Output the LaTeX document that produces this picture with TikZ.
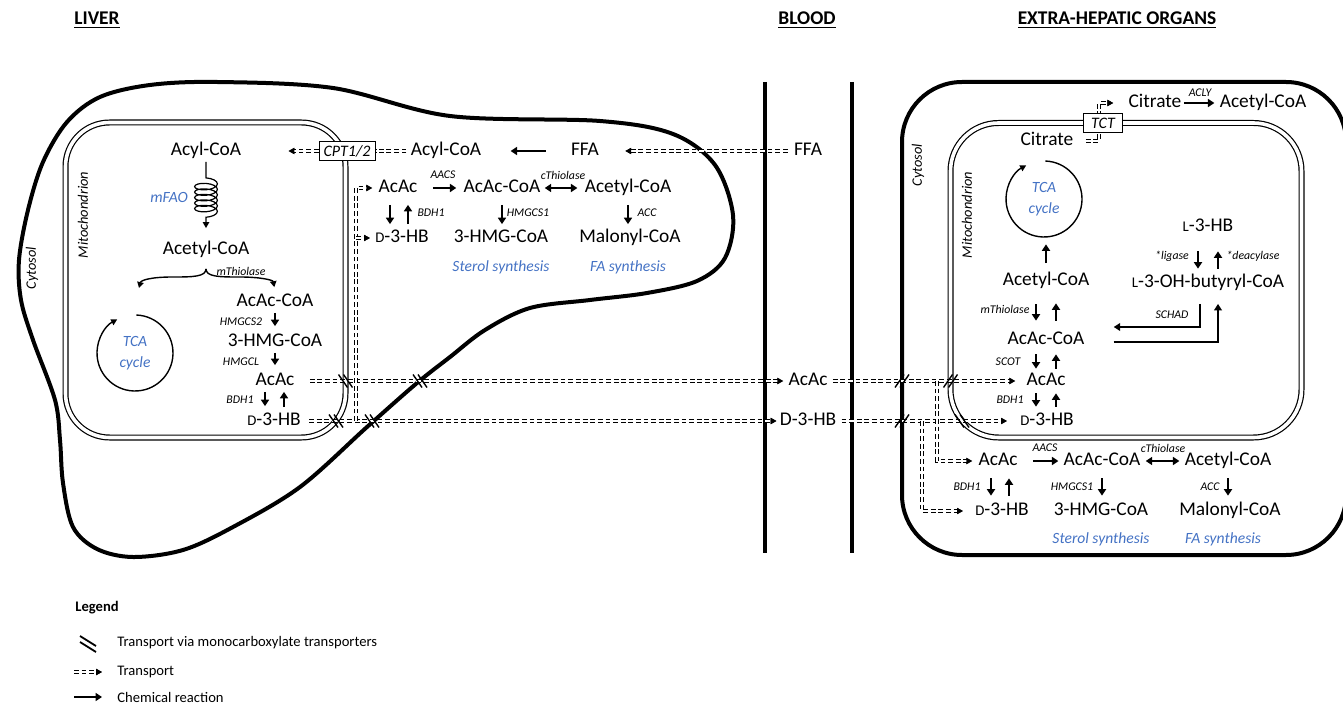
\documentclass[tikz,border=0pt]{standalone}
\usepackage{fontspec}
\setmainfont{Carlito}
\usetikzlibrary{arrows.meta,decorations.pathmorphing,backgrounds,calc}
\definecolor{pathBlue}{RGB}{68,114,196}
\newcommand{\smc}[1]{{\fontsize{7.4}{8}\selectfont #1}}
\tikzset{
  metab/.style={font=\fontsize{9.7}{11}\selectfont, inner sep=1pt, text height=6.5pt, text depth=2pt},
  enzyme/.style={font=\fontsize{5.9}{7}\selectfont\itshape, inner sep=0.5pt},
  bluenote/.style={font=\fontsize{7.8}{10.5}\selectfont\itshape, text=pathBlue, align=center, inner sep=0.5pt},
  compname/.style={font=\fontsize{7.2}{8}\selectfont\itshape, rotate=90, inner sep=0.5pt},
  header/.style={font=\fontsize{9.7}{11}\selectfont\bfseries},
  legendtxt/.style={font=\fontsize{7.3}{9}\selectfont, anchor=west, inner sep=0.5pt},
  carrier/.style={draw, fill=white, line width=0.5pt, font=\fontsize{8}{9}\selectfont\itshape,
    inner sep=1.5pt, minimum height=9.5pt},
  membrane/.style={line width=2pt},
  mitomem/.style={draw, double, line width=0.6pt, double distance=1.8pt},
  rxn/.style={line width=1.2pt, -{Triangle[length=3.2pt,width=4pt]}},
  rxnboth/.style={line width=1.2pt, {Triangle[length=3.2pt,width=4pt]}-{Triangle[length=3.2pt,width=4pt]}},
  rxnthin/.style={line width=0.85pt, -{Triangle[length=3.2pt,width=3.8pt]}},
  transportline/.style={line width=2pt, dash pattern=on 2.4pt off 1.4pt,
    postaction={draw=white, line width=0.8pt}},
  transport/.style={line width=2pt, dash pattern=on 2.4pt off 1.4pt,
    -{Triangle[length=2.9pt,width=3pt]},
    postaction={draw=white, line width=0.8pt, -{Triangle[length=2.9pt,width=3pt,color=black]}}},
  cycleline/.style={line width=0.7pt, -{Triangle[length=3pt,width=3.2pt]}},
  tcanode/.style={circle, minimum size=38pt, inner sep=0pt, font=\fontsize{7.8}{10.5}\selectfont\itshape,
    text=pathBlue, align=center},
  mct/.pic={\draw[line width=0.7pt] (-7,-6.5) -- (2,6.5) (-2,-6.5) -- (7,6.5);},
}

\begin{document}
\begin{tikzpicture}[x=0.5pt, y=-0.5pt]
  \useasboundingbox (0,0) rectangle (1343,705);

  % headers
  \node[header] (hliver) at (97,20) {\underline{LIVER}};
  \node[header] (hblood) at (807,20) {\underline{BLOOD}};
  \node[header] (hextra) at (1117,20) {\underline{EXTRA-HEPATIC ORGANS}};

  % membranes
  \draw[membrane] plot[smooth cycle, tension=0.55] coordinates {
    (217,82) (333,88) (450,116) (600,121) (673,134) (715,165) (733,215) (725,258)
    (697,281) (647,293) (590,300) (530,308) (485,330) (450,357) (417,383) (367,427)
    (300,487) (233,527) (183,550) (133,557) (97,549) (73,527) (63,483) (60,440)
    (55,400) (33,340) (21,300) (19,260) (28,210) (43,162) (67,122) (100,97) (150,85)};
  \draw[membrane] (765,82) -- (765,553);
  \draw[membrane] (852,82) -- (852,553);
  \draw[membrane, rounded corners=30pt] (902,82) rectangle (1346,555);
  \draw[mitomem, rounded corners=22pt] (65.5,122.5) rectangle (345.5,437.5);
  \draw[mitomem, rounded corners=24pt] (950.5,123) rectangle (1301.5,437.5);

  \node[compname] (lcyto) at (32,268) {Cytosol};
  \node[compname] (lmitolab) at (83,215) {Mitochondrion};
  \node[compname] (ecyto) at (918,165) {Cytosol};
  \node[compname] (emitolab) at (967,215) {Mitochondrion};

  % liver mitochondrion
  \node[metab] (lacylm) at (206,151) {Acyl-CoA};
  \node[bluenote] (mfao) at (169,197) {mFAO};
  \node[metab] (lacetylm) at (206,250) {Acetyl-CoA};
  \node[enzyme] (lmthiol) at (241,271) {mThiolase};
  \node[metab] (lacaccoam) at (275,302) {AcAc-CoA};
  \node[enzyme] (lhmgcs2) at (241,322) {HMGCS2};
  \node[metab] (lhmgm) at (275,342) {3-HMG-CoA};
  \node[enzyme] (lhmgcl) at (241,362) {HMGCL};
  \node[metab] (lacacm) at (275,381) {AcAc};
  \node[enzyme] (lbdh1m) at (240,400) {BDH1};
  \node[metab] (ld3hbm) at (274,421) {\smc{D}-3-HB};
  \node[tcanode] (ltca) at (135,353) {TCA\\cycle};

  % liver cytosol
  \node[metab] (lacyl) at (446,151) {Acyl-CoA};
  \node[metab] (lffa) at (585,151) {FFA};
  \node[metab] (lacacc) at (398,188) {AcAc};
  \node[enzyme] (laacs) at (443,175) {AACS};
  \node[metab] (lacaccoac) at (502,188) {AcAc-CoA};
  \node[enzyme] (lcthiol) at (563,175) {cThiolase};
  \node[metab] (lacetylc) at (628,188) {Acetyl-CoA};
  \node[enzyme] (lbdh1c) at (431,213) {BDH1};
  \node[metab] (ld3hbc) at (402,238) {\smc{D}-3-HB};
  \node[enzyme] (lhmgcs1) at (528,213) {HMGCS1};
  \node[metab] (lhmgc) at (501,238) {3-HMG-CoA};
  \node[enzyme] (lacc) at (647,213) {ACC};
  \node[metab] (lmalc) at (630,238) {Malonyl-CoA};
  \node[bluenote] (lsterol) at (501,267) {Sterol synthesis};
  \node[bluenote] (lfasyn) at (628,267) {FA synthesis};
  \node[carrier, minimum width=28pt] (cpt) at (347,151) {CPT1/2};

  % blood
  \node[metab] (bffa) at (808,151) {FFA};
  \node[metab] (bacac) at (808,381) {AcAc};
  \node[metab] (bd3hb) at (808,421) {D-3-HB};

  % extra-hepatic mitochondrion
  \node[metab] (ecitc) at (1155,103) {Citrate};
  \node[enzyme] (eacly) at (1200,93) {ACLY};
  \node[metab] (eacetyltop) at (1263,103) {Acetyl-CoA};
  \node[carrier, minimum width=19.5pt] (tct) at (1103,123) {TCT};
  \node[metab] (ecitm) at (1047,141) {Citrate};
  \node[tcanode] (etca) at (1044,199) {TCA\\cycle};
  \node[metab] (eacetylm) at (1046,281) {Acetyl-CoA};
  \node[metab] (el3hb) at (1208,227) {\smc{L}-3-HB};
  \node[enzyme] (eligase) at (1172,256) {*ligase};
  \node[enzyme] (edeacyl) at (1253,256) {*deacylase};
  \node[metab] (el3oh) at (1208,283) {\smc{L}-3-OH-butyryl-CoA};
  \node[enzyme] (emthiol) at (1005,309) {mThiolase};
  \node[enzyme] (eschad) at (1172,315) {SCHAD};
  \node[metab] (eacaccoam) at (1046,340) {AcAc-CoA};
  \node[enzyme] (escot) at (1008,362) {SCOT};
  \node[metab] (eacacm) at (1046,381) {AcAc};
  \node[enzyme] (ebdh1m) at (1010,400) {BDH1};
  \node[metab] (ed3hbm) at (1047,421) {\smc{D}-3-HB};

  % extra-hepatic cytosol
  \node[metab] (eacacc) at (998,461) {AcAc};
  \node[enzyme] (eaacs) at (1045,448) {AACS};
  \node[metab] (eacaccoac) at (1102,461) {AcAc-CoA};
  \node[enzyme] (ecthiol) at (1163,448) {cThiolase};
  \node[metab] (eacetylc) at (1228,461) {Acetyl-CoA};
  \node[enzyme] (ebdh1c) at (967,487) {BDH1};
  \node[enzyme] (ehmgcs1) at (1072,487) {HMGCS1};
  \node[enzyme] (eacc) at (1210,487) {ACC};
  \node[metab] (ed3hbc) at (1002,511) {\smc{D}-3-HB};
  \node[metab] (ehmgc) at (1101,511) {3-HMG-CoA};
  \node[metab] (emalc) at (1230,511) {Malonyl-CoA};
  \node[bluenote] (esterol) at (1101,539) {Sterol synthesis};
  \node[bluenote] (efasyn) at (1223,539) {FA synthesis};

  % reactions, liver
  \draw[line width=0.6pt, decorate, -{Triangle[length=3pt,width=3.2pt]},
    decoration={coil, amplitude=5.7pt, segment length=2.75pt, aspect=0.4, pre length=8pt, post length=4.5pt}]
    (lacylm.south) -- ([yshift=5.5pt]lacetylm.north);
  \coordinate (lbrace) at ([yshift=-4pt]lacetylm.south);
  \draw[line width=0.7pt, -{Triangle[length=3pt,width=3.2pt]}] (lbrace)
    .. controls (206,277) and (192,277) .. (172,277) .. controls (152,277) and (141,280) .. (139,288);
  \draw[line width=0.7pt, -{Triangle[length=3pt,width=3.2pt]}, shorten >=2pt] (lbrace)
    .. controls (206,277) and (220,277) .. (240,277) .. controls (260,277) and (273,280) .. (lacaccoam.north);
  \draw[cycleline] ([shift={(88:19pt)}]ltca.center) arc[start angle=88, end angle=-242, radius=19pt];
  \draw[rxn, shorten >=2.5pt] (lacaccoam) -- (lhmgm);
  \draw[rxn, shorten >=2.5pt] (lhmgm) -- (lacacm);
  \draw[rxn, shorten >=2pt] ([xshift=-5pt]lacacm.south) -- ([xshift=-5pt]lacacm.south |- ld3hbm.north);
  \draw[rxn, shorten <=1.5pt] ([xshift=4.5pt]lacacm.south |- ld3hbm.north) -- ([xshift=4.5pt]lacacm.south);

  \draw[rxn, shorten <=11.5pt, shorten >=13.5pt] (lffa) -- (lacyl);
  \draw[rxn, shorten <=6.5pt, shorten >=2.5pt] (lacacc) -- (lacaccoac);
  \draw[rxnboth, shorten <=1pt, shorten >=2.5pt] (lacaccoac) -- (lacetylc);
  \draw[rxn, shorten <=3pt, shorten >=1.5pt] ([xshift=-4pt]lacacc.south) -- ([xshift=-4pt]lacacc.south |- ld3hbc.north);
  \draw[rxn, shorten <=1.5pt, shorten >=3pt] ([xshift=5pt]lacacc.south |- ld3hbc.north) -- ([xshift=5pt]lacacc.south);
  \draw[rxn, shorten <=3pt, shorten >=1.5pt] (lacaccoac.south) -- (lacaccoac.south |- lhmgc.north);
  \draw[rxn, shorten <=3pt, shorten >=1.5pt] (lacetylc.south) -- (lacetylc.south |- lmalc.north);

  % reactions, extra-hepatic
  \draw[rxn, shorten >=1.5pt] (ecitc) -- (eacetyltop);
  \draw[cycleline] ([shift={(88:19pt)}]etca.center) arc[start angle=88, end angle=-242, radius=19pt];
  \draw[rxn, shorten <=3.5pt, shorten >=3.5pt] (eacetylm.north) -- (eacetylm.north |- etca.south);
  \draw[rxn, shorten <=6.25pt, shorten >=4.25pt] ([xshift=-5pt]eacetylm.south) -- ([xshift=-5pt]eacetylm.south |- eacaccoam.north);
  \draw[rxn, shorten <=4.25pt, shorten >=5.75pt] ([xshift=5pt]eacetylm.south |- eacaccoam.north) -- ([xshift=5pt]eacetylm.south);
  \draw[rxn, shorten <=1.75pt, shorten >=0.75pt] ([xshift=-5pt]eacaccoam.south) -- ([xshift=-5pt]eacaccoam.south |- eacacm.north);
  \draw[rxn, shorten <=0.75pt, shorten >=1.75pt] ([xshift=5pt]eacaccoam.south |- eacacm.north) -- ([xshift=5pt]eacaccoam.south);
  \draw[rxn, shorten <=0.75pt, shorten >=1.75pt] ([xshift=-5pt]eacacm.south) -- ([xshift=-5pt]eacacm.south |- ed3hbm.north);
  \draw[rxn, shorten <=1.75pt, shorten >=0.75pt] ([xshift=5pt]eacacm.south |- ed3hbm.north) -- ([xshift=5pt]eacacm.south);
  \draw[rxn, shorten <=6.75pt, shorten >=1.75pt] ([xshift=-5pt]el3hb.south) -- ([xshift=-5pt]el3hb.south |- el3oh.north);
  \draw[rxn, shorten <=1.75pt, shorten >=6.75pt] ([xshift=5pt]el3hb.south |- el3oh.north) -- ([xshift=5pt]el3hb.south);
  \draw[rxnthin] ([xshift=-4pt, yshift=-5pt]el3oh.south) |- ([xshift=13.5pt, yshift=6.5pt]eacaccoam.east);
  \draw[rxnthin] ([xshift=13.5pt, yshift=-1pt]eacaccoam.east) -| ([xshift=5pt, yshift=-5pt]el3oh.south);

  \draw[rxn, shorten <=6.5pt, shorten >=1.5pt] (eacacc) -- (eacaccoac);
  \draw[rxnboth, shorten <=1.5pt, shorten >=1.5pt] (eacaccoac) -- (eacetylc);
  \draw[rxn, shorten <=3.25pt, shorten >=2.25pt] ([xshift=-3.5pt]eacacc.south) -- ([xshift=-3.5pt]eacacc.south |- ed3hbc.north);
  \draw[rxn, shorten <=2.25pt, shorten >=3.25pt] ([xshift=5.5pt]eacacc.south |- ed3hbc.north) -- ([xshift=5.5pt]eacacc.south);
  \draw[rxn, shorten <=3.25pt, shorten >=2.25pt] (eacaccoac.south) -- (eacaccoac.south |- ehmgc.north);
  \draw[rxn, shorten <=3.25pt, shorten >=2.25pt] (eacetylc.south) -- (eacetylc.south |- emalc.north);

  % transport
  \draw[transport, shorten <=2pt, shorten >=12pt] (bffa) -- (lffa);
  \draw[transportline, shorten <=1pt] (lacyl) -- (cpt);
  \draw[transport, shorten >=22.5pt] (cpt) -- (lacylm);
  \draw[transport, shorten <=6.5pt, shorten >=1.5pt] (lacacm) -- (bacac);
  \draw[transport, shorten <=3pt, shorten >=0.5pt] (ld3hbm) -- (bd3hb);
  \coordinate (lbranch) at (356,421);
  \draw[transport, shorten >=2pt] (lbranch) |- (lacacc.west);
  \draw[transport, shorten >=1.5pt] (lbranch |- ld3hbc.west) -- (ld3hbc.west);
  \draw[transport, shorten <=1.5pt, shorten >=4.5pt] (bacac) -- (eacacm);
  \draw[transport, shorten <=1.5pt, shorten >=5.5pt] (bd3hb) -- (ed3hbm);
  \coordinate (eacbranch) at (937,381);
  \coordinate (ehbbranch) at (922,421);
  \draw[transport, shorten >=2pt] (eacbranch) |- (eacacc.west);
  \draw[transport, shorten >=5pt] (ehbbranch) |- (ed3hbc.west);
  \begin{scope}[on background layer]
    \draw[transport, shorten <=5pt, shorten >=6.5pt] (ecitm.east) -| ([xshift=-2pt]tct.center) |- (ecitc.west);
  \end{scope}

  % monocarboxylate transporters
  \pic at (345.5,381) {mct};
  \pic at (420,381) {mct};
  \pic at (336,421) {mct};
  \pic at (372,421) {mct};
  \pic[xscale=-1] at (902,381) {mct};
  \pic[xscale=-1] at (950.5,381) {mct};
  \pic[xscale=-1] at (902,421) {mct};
  \pic at (962,421) {mct};

  % legend
  \node[legendtxt, font=\fontsize{7.3}{9}\selectfont\bfseries] (lgtitle) at (74,608) {Legend};
  \node[legendtxt] (lgmct) at (116,643) {Transport via monocarboxylate transporters};
  \node[legendtxt] (lgtrans) at (116,672) {Transport};
  \node[legendtxt] (lgrxn) at (116,697) {Chemical reaction};
  \draw[line width=0.9pt] (80,636) -- (96,646) (80,642) -- (96,652);
  \coordinate (lgtransA) at (74,672);
  \coordinate (lgrxnA) at (74,697);
  \draw[transport, shorten >=7pt] (lgtransA) -- (lgtrans.west);
  \draw[rxn, line width=0.9pt, shorten >=7pt] (lgrxnA) -- (lgrxn.west);
\end{tikzpicture}
\end{document}
